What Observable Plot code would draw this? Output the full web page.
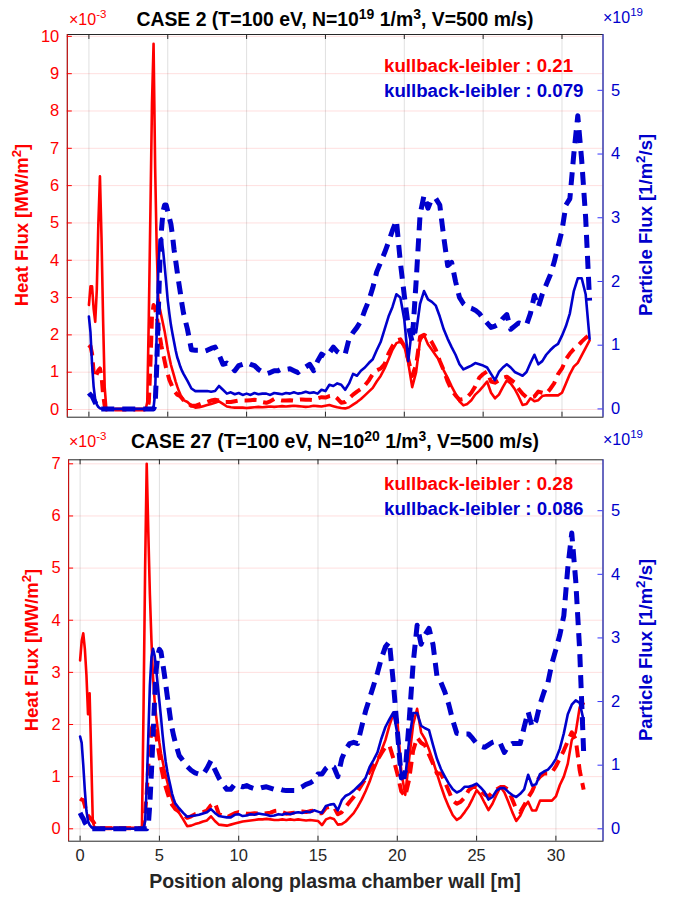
<!DOCTYPE html>
<html><head><meta charset="utf-8">
<script src="https://cdn.jsdelivr.net/npm/d3@7"></script>
<script src="https://cdn.jsdelivr.net/npm/@observablehq/plot@0.6"></script>
<style>
body{margin:0;background:#fff;}
#fig{position:relative;width:676px;height:898px;overflow:hidden;}
#fig svg{position:absolute;left:0;top:0;}
</style></head><body><div id="fig"></div>
<script>
// ---------- data ----------
const xs = [
0,0.1,0.2,0.3,0.4,0.5,0.6,0.7,0.8,0.9,
1,1.1,1.2,1.3,1.4,1.5,1.6,1.7,1.8,1.9,
2,2.1,2.2,2.3,2.4,2.5,2.6,2.7,2.8,2.9,
3,3.1,3.2,3.3,3.4,3.5,3.6,3.7,3.8,3.9,
4,4.1,4.2,4.3,4.4,4.5,4.6,4.7,4.8,4.9,
5,5.1,5.2,5.3,5.4,5.5,5.6,5.7,5.8,5.9,
6,
6.25,6.5,6.75,7,7.25,7.5,7.75,8,8.25,8.5,8.75,9,9.25,9.5,9.75,
10,10.25,10.5,10.75,11,11.25,11.5,11.75,12,12.25,12.5,12.75,13,13.25,13.5,13.75,14,14.25,14.5,14.75,
15,15.25,15.5,15.75,16,16.25,16.5,16.75,17,17.25,17.5,17.75,18,18.25,18.5,18.75,19,19.25,19.5,19.75,
20,20.25,20.5,20.75,21,21.25,21.5,21.75,22,22.25,22.5,22.75,23,23.25,23.5,23.75,24,24.25,24.5,24.75,
25,25.25,25.5,25.75,26,26.25,26.5,26.75,27,27.25,27.5,27.75,28,28.25,28.5,28.75,29,29.25,29.5,29.75,
30,30.25,30.5,30.75,31,31.25,31.5,31.75];

// CASE 2 heat flux (x1e-3 MW/m2)
const case2HeatSolid = [
2.8,3.3,3.3,2.7,2.35,3.2,5.0,6.25,4.6,2.4,
0.6,0.05,0,0,0,0,0,0,0,0,
0,0,0,0,0,0,0,0,0,0,
0,0,0,0,0,0,0,0.2,2.5,5.3,
8.2,9.8,6.5,4.3,3.0,2.7,2.5,2.3,2.1,1.85,
1.6,1.4,1.2,1.05,0.9,0.75,0.62,0.5,0.4,0.32,
0.25,
0.2,0.1,0.05,0.06,0.09,0.12,0.15,0.18,0.22,0.15,0.08,0.06,0.05,0.05,0.05,
0.04,0.05,0.06,0.07,0.06,0.07,0.08,0.07,0.08,0.09,0.08,0.09,0.1,0.09,0.08,0.07,0.08,0.1,0.09,0.08,
0.1,0.12,0.09,0.06,0.04,0.03,0.06,0.13,0.2,0.28,0.38,0.48,0.58,0.75,0.9,1.1,1.35,1.6,1.78,1.82,
1.7,1.25,0.6,1.0,1.85,2.0,1.75,1.6,1.45,1.3,1.05,0.85,0.62,0.42,0.22,0.11,0.15,0.25,0.4,0.5,
0.62,0.75,0.45,0.3,0.4,0.6,0.78,0.7,0.55,0.35,0.12,0.15,0.3,0.22,0.25,0.36,0.38,0.38,0.38,0.38,
0.45,0.7,0.95,1.15,1.25,1.45,1.65,1.85];
const case2HeatDashed = [
1.65,1.7,1.5,1.0,0.85,0.95,1.05,1.1,0.9,0.4,
0.1,0,0,0,0,0,0,0,0,0,
0,0,0,0,0,0,0,0,0,0,
0,0,0,0,0,0,0,0,0.2,1.2,
2.5,2.8,2.7,2.5,2.2,1.95,1.7,1.5,1.3,1.1,
0.95,0.8,0.7,0.6,0.5,0.45,0.4,0.38,0.35,0.3,
0.25,
0.18,0.1,0.1,0.14,0.18,0.2,0.24,0.26,0.24,0.2,0.2,0.2,0.22,0.24,0.24,
0.24,0.25,0.26,0.25,0.2,0.18,0.22,0.28,0.26,0.24,0.24,0.25,0.24,0.26,0.27,0.26,0.26,0.25,0.3,0.33,
0.32,0.36,0.38,0.3,0.18,0.2,0.3,0.4,0.48,0.55,0.65,0.78,0.95,1.05,1.1,1.22,1.5,1.7,1.85,1.88,
1.7,1.35,0.9,1.2,1.95,2.0,1.95,1.8,1.6,1.3,1.05,0.75,0.52,0.38,0.26,0.28,0.33,0.45,0.62,0.85,
0.95,1.02,0.75,0.72,0.78,0.85,0.88,0.8,0.72,0.55,0.42,0.33,0.33,0.35,0.48,0.45,0.42,0.55,0.7,0.95,
1.1,1.35,1.5,1.62,1.7,1.82,1.92,2.0];
// CASE 2 particle flux (x1e19 1/m2/s)
const case2PartSolid = [
1.45,1.2,0.7,0.35,0.15,0.07,0.03,0.01,0,0,
0,0,0,0,0,0,0,0,0,0,
0,0,0,0,0,0,0,0,0,0,
0,0,0,0,0,0,0,0,0,0,
0,0.02,0.25,1.2,2.2,2.65,2.68,2.5,2.25,1.98,
1.7,1.5,1.32,1.18,1.05,0.92,0.81,0.74,0.66,0.6,
0.55,
0.44,0.32,0.28,0.28,0.28,0.28,0.27,0.28,0.36,0.3,0.24,0.26,0.23,0.25,0.22,
0.24,0.22,0.25,0.23,0.24,0.24,0.22,0.25,0.24,0.23,0.25,0.24,0.26,0.24,0.25,0.27,0.25,0.26,0.24,0.3,
0.28,0.38,0.36,0.4,0.38,0.3,0.4,0.55,0.52,0.6,0.65,0.72,0.78,0.92,1.05,1.25,1.45,1.6,1.8,1.75,
1.4,0.75,1.3,1.2,1.65,1.85,1.72,1.68,1.62,1.45,1.25,1.1,0.97,0.85,0.7,0.62,0.65,0.68,0.72,0.7,
0.68,0.65,0.55,0.45,0.58,0.65,0.7,0.65,0.58,0.55,0.52,0.58,0.72,0.85,0.7,0.75,0.85,0.92,0.98,1.02,
1.15,1.3,1.5,1.85,2.05,2.05,1.8,1.1];
const case2PartDashed = [
0.25,0.22,0.2,0.15,0.1,0.05,0.02,0,0,0,
0,0,0,0,0,0,0,0,0,0,
0,0,0,0,0,0,0,0,0,0,
0,0,0,0,0,0,0,0,0,0,
0,0,0.05,0.65,1.5,2.3,2.8,3.1,3.2,3.2,
3.1,3.0,2.9,2.72,2.5,2.33,2.15,1.98,1.82,1.65,
1.5,
1.25,0.93,0.92,0.92,0.9,0.92,0.95,0.97,0.85,0.7,0.72,0.68,0.6,0.68,0.7,
0.73,0.7,0.68,0.62,0.58,0.55,0.57,0.6,0.6,0.63,0.62,0.63,0.6,0.57,0.62,0.66,0.7,0.6,0.75,0.86,
0.82,0.88,0.97,0.9,0.86,0.86,1.1,1.2,1.28,1.38,1.55,1.7,1.9,2.15,2.3,2.45,2.62,2.8,2.96,2.3,
1.78,1.3,1.05,2.0,3.05,3.35,3.15,3.3,3.3,3.2,2.7,2.25,2.3,2.0,1.75,1.65,1.6,1.58,1.55,1.5,
1.42,1.35,1.28,1.3,1.33,1.42,1.48,1.25,1.3,1.35,1.33,1.32,1.5,1.78,1.6,1.8,1.95,2.1,2.3,2.55,
2.8,3.2,3.3,4.0,4.6,3.9,3.0,1.7];

// CASE 27 heat flux (x1e-3 MW/m2)
const case27HeatSolid = [
3.23,3.6,3.75,3.45,2.95,2.2,2.6,1.4,0.15,0.03,
0.02,0.02,0.02,0.02,0.02,0.02,0.02,0.02,0.02,0.02,
0.02,0.02,0.02,0.02,0.02,0.02,0.02,0.02,0.02,0.02,
0.02,0.02,0.02,0.02,0.02,0.02,0.02,0.02,0.02,0.05,
2.3,5.0,7.0,5.7,4.5,3.6,2.9,2.45,2.15,1.9,
1.65,1.45,1.3,1.15,1.02,0.9,0.78,0.67,0.57,0.48,
0.4,
0.3,0.18,0.05,0.06,0.09,0.11,0.14,0.16,0.24,0.15,0.08,0.07,0.06,0.08,0.1,
0.12,0.14,0.15,0.16,0.17,0.18,0.18,0.19,0.18,0.17,0.17,0.18,0.17,0.18,0.17,0.18,0.17,0.16,0.17,0.16,
0.15,0.07,0.18,0.21,0.19,0.08,0.09,0.14,0.22,0.3,0.42,0.56,0.72,0.9,1.12,1.3,1.5,1.7,1.98,2.2,
2.1,1.1,0.65,1.35,2.0,2.3,1.85,1.72,1.52,1.3,1.06,0.82,0.6,0.42,0.26,0.17,0.22,0.32,0.43,0.58,
0.74,0.65,0.5,0.36,0.48,0.65,0.8,0.7,0.52,0.32,0.15,0.25,0.42,0.52,0.35,0.35,0.54,0.54,0.54,0.54,
0.62,0.84,1.0,1.25,1.7,1.85,2.33,2.4];
const case27HeatDashed = [
0.58,0.56,0.55,0.45,0.3,0.25,0.22,0.18,0.15,0.1,
0.05,0.02,0.01,0.01,0.01,0.01,0.01,0.01,0.01,0.01,
0.01,0.01,0.01,0.01,0.01,0.01,0.01,0.01,0.01,0.01,
0.01,0.01,0.01,0.01,0.01,0.01,0.01,0.01,0.01,0.02,
0.05,0.3,0.7,1.2,1.6,1.9,2.0,1.95,1.8,1.6,
1.4,1.2,1.05,0.9,0.8,0.7,0.6,0.52,0.46,0.42,
0.38,
0.33,0.27,0.21,0.24,0.28,0.3,0.32,0.35,0.45,0.5,0.28,0.25,0.22,0.26,0.3,
0.32,0.31,0.29,0.29,0.3,0.29,0.29,0.3,0.31,0.34,0.35,0.32,0.29,0.3,0.31,0.32,0.33,0.32,0.34,0.35,
0.3,0.3,0.4,0.42,0.42,0.28,0.32,0.42,0.52,0.61,0.72,0.84,0.96,1.1,1.22,1.32,1.45,1.57,1.6,1.35,
1.06,0.72,0.62,0.95,1.5,1.75,1.65,1.6,1.42,1.25,1.06,1.06,0.9,0.72,0.54,0.48,0.52,0.6,0.74,0.8,
0.8,0.74,0.66,0.62,0.7,0.75,0.8,0.8,0.75,0.56,0.38,0.32,0.45,0.6,0.72,0.9,1.0,1.06,1.06,1.08,
1.2,1.35,1.5,1.68,1.85,1.72,1.12,0.75];
// CASE 27 particle flux (x1e19 1/m2/s)
const case27PartSolid = [
1.45,1.35,1.0,0.6,0.28,0.12,0.06,0.03,0.01,0,
0,0,0,0,0,0,0,0,0,0,
0,0,0,0,0,0,0,0,0,0,
0,0,0,0,0,0,0,0,0,0,
0,0.12,0.65,1.45,2.25,2.7,2.83,2.72,2.5,2.25,
2.0,1.75,1.48,1.25,1.05,0.9,0.78,0.67,0.55,0.47,
0.4,
0.32,0.25,0.19,0.2,0.21,0.22,0.24,0.26,0.31,0.25,0.2,0.19,0.18,0.18,0.22,
0.23,0.2,0.21,0.23,0.22,0.24,0.23,0.22,0.2,0.21,0.23,0.22,0.24,0.23,0.25,0.26,0.25,0.27,0.26,0.29,
0.27,0.25,0.36,0.38,0.39,0.29,0.45,0.52,0.55,0.6,0.66,0.72,0.8,0.97,1.08,1.2,1.42,1.6,1.72,1.83,
1.5,0.8,0.8,1.4,1.82,1.82,1.62,1.58,1.55,1.32,1.1,0.94,0.82,0.71,0.62,0.57,0.6,0.66,0.66,0.68,
0.71,0.65,0.58,0.46,0.5,0.6,0.64,0.64,0.58,0.53,0.5,0.55,0.62,0.85,0.68,0.7,0.86,0.9,0.93,1.0,
1.1,1.26,1.5,1.8,1.95,2.02,1.98,1.7];
const case27PartDashed = [
0.25,0.2,0.16,0.1,0.06,0.03,0.01,0,0,0,
0,0,0,0,0,0,0,0,0,0,
0,0,0,0,0,0,0,0,0,0,
0,0,0,0,0,0,0,0,0,0,
0,0,0,0.05,0.4,0.9,1.45,2.05,2.5,2.73,
2.82,2.78,2.62,2.45,2.27,2.08,1.9,1.72,1.58,1.46,
1.36,
1.15,1.07,0.98,0.92,0.88,0.86,0.85,0.95,1.07,0.93,0.8,0.7,0.62,0.62,0.7,
0.68,0.66,0.68,0.65,0.63,0.63,0.65,0.66,0.64,0.62,0.63,0.61,0.6,0.6,0.6,0.63,0.66,0.7,0.72,0.76,
0.86,0.86,0.95,1.0,0.97,0.82,1.1,1.25,1.34,1.36,1.34,1.6,1.85,2.05,2.25,2.45,2.68,2.86,2.94,2.3,
1.55,0.8,0.9,1.7,2.6,3.2,2.9,3.05,3.15,2.9,2.4,2.3,2.15,1.95,1.7,1.5,1.49,1.49,1.49,1.42,
1.34,1.3,1.28,1.32,1.36,1.38,1.34,1.2,1.3,1.34,1.34,1.34,1.6,1.84,1.6,1.7,1.96,2.15,2.3,2.6,
2.82,3.05,3.35,4.1,4.65,3.9,2.8,1.2];

const posTicks = [0,5,10,15,20,25,30];
const heatTicks2 = [0,1,2,3,4,5,6,7,8,9,10];
const heatTicks27 = [0,1,2,3,4,5,6,7];
const partTicks = [0,1,2,3,4,5];
const klCase2 = ["0.21","0.079"];
const klCase27 = ["0.28","0.086"];

// ---------- drawing ----------
const W = 676, H = 898;
const FONT = '"Liberation Sans", Arial, Helvetica, sans-serif';
const RED = "#ff0000", BLUE = "#0000cc", DARK = "#262626";
const TICK = 16.5;
const fig = document.getElementById("fig");

[case2HeatSolid,case2HeatDashed,case2PartSolid,case2PartDashed,
 case27HeatSolid,case27HeatDashed,case27PartSolid,case27PartDashed].forEach((s,i)=>{
  if (s.length !== xs.length) throw new Error("series " + i + " length " + s.length + " vs " + xs.length);
});
const mk = vals => xs.map((x,i)=>({x, y: vals[i]}));

function layer(p, side) {
  const [L, R, T, B] = p.box;
  const innerW = R - L, innerH = B - T;
  const marks = [];
  if (side === "left") {
    marks.push(
      Plot.ruleX(posTicks, {stroke: DARK, strokeOpacity: 0.14}),
      Plot.ruleY(p.heatTicks, {stroke: RED, strokeOpacity: 0.13}),
      Plot.frame({stroke: DARK, strokeWidth: 1}),
      Plot.ruleX([p.xDomain[0]], {stroke: RED, strokeOpacity: 0.8}),
      Plot.tickY(p.heatTicks, {y: d=>d, stroke: RED, insetRight: innerW - 5}),
      Plot.tickX(posTicks, {x: d=>d, stroke: DARK, insetTop: innerH - 5}),
      Plot.tickX(posTicks, {x: d=>d, stroke: DARK, insetBottom: innerH - 5}),
      Plot.text(p.heatTicks, {y: d=>d, text: d=>String(d), frameAnchor: "left", textAnchor: "end", dx: -8, fill: RED, fontSize: TICK})
    );
    if (p.xLabels) marks.push(
      Plot.text(posTicks, {x: d=>d, text: d=>String(d), frameAnchor: "bottom", lineAnchor: "top", dy: 8, fill: DARK, fontSize: TICK})
    );
    marks.push(
      Plot.line(mk(p.heatSolid), {x: "x", y: "y", stroke: RED, strokeWidth: 2.6, strokeLinejoin: "round"}),
      Plot.line(mk(p.heatDashed), {x: "x", y: "y", stroke: RED, strokeWidth: 4, strokeDasharray: "12,7", strokeLinecap: "butt"})
    );
  } else {
    marks.push(
      Plot.ruleX([p.xDomain[1]], {stroke: "#3333ff", strokeOpacity: 0.85}),
      Plot.tickY(partTicks, {y: d=>d, stroke: "#3333ff", insetLeft: innerW - 5}),
      Plot.text(partTicks, {y: d=>d, text: d=>String(d), frameAnchor: "right", textAnchor: "start", dx: 8, fill: BLUE, fontSize: TICK}),
      Plot.line(mk(p.partSolid), {x: "x", y: "y", stroke: BLUE, strokeWidth: 2.6, strokeLinejoin: "round"}),
      Plot.line(mk(p.partDashed), {x: "x", y: "y", stroke: BLUE, strokeWidth: 5, strokeDasharray: "13,8", strokeLinecap: "butt"})
    );
  }
  const svg = Plot.plot({
    width: W, height: H,
    marginLeft: L, marginRight: W - R, marginTop: T, marginBottom: H - B,
    x: {domain: p.xDomain, axis: null},
    y: {domain: side === "left" ? p.heatDomain : p.partDomain, axis: null},
    style: {background: "transparent", fontFamily: FONT, overflow: "visible"},
    marks
  });
  svg.style.position = "absolute"; svg.style.left = "0px"; svg.style.top = "0px";
  svg.style.maxWidth = "none";
  fig.appendChild(svg);
}

const panels = [
  {box: [66.8, 602.5, 34, 416.7], xDomain: [-1.37, 32.6], heatDomain: [-0.206, 10.05], partDomain: [-0.13, 5.876],
   heatTicks: heatTicks2, heatSolid: case2HeatSolid, heatDashed: case2HeatDashed,
   partSolid: case2PartSolid, partDashed: case2PartDashed, xLabels: false},
  {box: [68.1, 602.5, 459.3, 840.7], xDomain: [-0.725, 32.97], heatDomain: [-0.238, 7.077], partDomain: [-0.195, 5.80],
   heatTicks: heatTicks27, heatSolid: case27HeatSolid, heatDashed: case27HeatDashed,
   partSolid: case27PartSolid, partDashed: case27PartDashed, xLabels: true}
];
panels.forEach(p => layer(p, "left"));
panels.forEach(p => layer(p, "right"));

// ---------- annotations ----------
const ann = d3.create("svg").attr("width", W).attr("height", H)
  .attr("font-family", FONT).style("position","absolute").style("left","0px").style("top","0px");

function rich(parent, parts, attrs) {
  const t = parent.append("text");
  Object.entries(attrs).forEach(([k,v]) => t.attr(k, v));
  let raised = false;
  parts.forEach(([s, sup]) => {
    const ts = t.append("tspan").text(s);
    if (sup && !raised) { ts.attr("dy", -7).attr("font-size", "0.72em"); raised = true; }
    else if (!sup && raised) { ts.attr("dy", 7); raised = false; }
  });
  return t;
}
const titles = [
  {y: 26, parts: [["CASE 2 (T=100 eV, N=10"],["19",1],[" 1/m"],["3",1],[", V=500 m/s)"]]},
  {y: 448, parts: [["CASE 27 (T=100 eV, N=10"],["20",1],[" 1/m"],["3",1],[", V=500 m/s)"]]}
];
titles.forEach(t => rich(ann, t.parts, {x: 335, y: t.y, "text-anchor": "middle", "font-size": 19.4, "font-weight": "bold", fill: "#000"}));

[{y: 25},{y: 447}].forEach(o => rich(ann, [["\u00d710"],["-3",1]], {x: 69, y: o.y, "font-size": 16, fill: RED}));
[{y: 23},{y: 445}].forEach(o => rich(ann, [["\u00d710"],["19",1]], {x: 603, y: o.y, "font-size": 16, fill: BLUE}));

[{y: 72, v: klCase2},{y: 490, v: klCase27}].forEach(o => {
  ann.append("text").attr("x", 384).attr("y", o.y).attr("font-size", 18.7).attr("font-weight","bold").attr("fill", RED).text("kullback-leibler : " + o.v[0]);
  ann.append("text").attr("x", 384).attr("y", o.y + 24.5).attr("font-size", 18.7).attr("font-weight","bold").attr("fill", BLUE).text("kullback-leibler : " + o.v[1]);
});

[{cx: 28, cy: 225},{cx: 38, cy: 650}].forEach(o => {
  const g = ann.append("g").attr("transform", `translate(${o.cx},${o.cy}) rotate(-90)`);
  rich(g, [["Heat Flux [MW/m"],["2",1],["]"]], {x: 0, y: 0, "text-anchor": "middle", "font-size": 18.5, "font-weight": "bold", fill: RED});
});
[{cx: 652, cy: 225},{cx: 652, cy: 650}].forEach(o => {
  const g = ann.append("g").attr("transform", `translate(${o.cx},${o.cy}) rotate(-90)`);
  rich(g, [["Particle Flux [1/m"],["2",1],["/s]"]], {x: 0, y: 0, "text-anchor": "middle", "font-size": 18.5, "font-weight": "bold", fill: BLUE});
});
ann.append("text").attr("x", 335).attr("y", 888).attr("text-anchor","middle").attr("font-size", 19.5).attr("font-weight","bold").attr("fill", DARK)
  .text("Position along plasma chamber wall [m]");

fig.appendChild(ann.node());
</script>
</body></html>
